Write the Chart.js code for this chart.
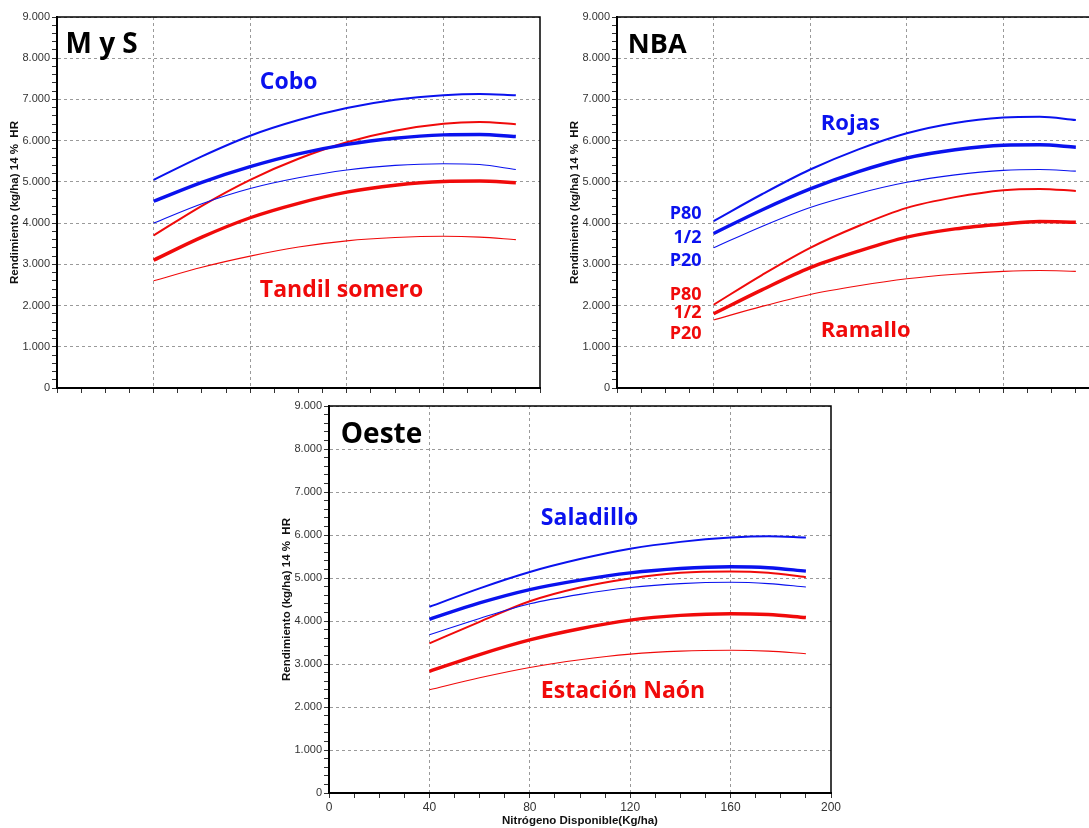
<!DOCTYPE html>
<html lang="es">
<head>
<meta charset="utf-8">
<title>Rendimiento vs Nitrógeno disponible</title>
<script src="https://cdn.jsdelivr.net/npm/chart.js@4.4.1/dist/chart.umd.min.js"></script>
<style>
  html, body { margin: 0; padding: 0; background: #fff; }
  body { position: relative; width: 1089px; height: 828px; overflow: hidden; }
  canvas { position: absolute; }
  #mys { left: 0; top: 0; }
  #nba { left: 560px; top: 0; }
  #oeste { left: 272px; top: 390px; }
</style>
</head>
<body>
<canvas id="mys" width="542" height="398"></canvas>
<canvas id="nba" width="542" height="398"></canvas>
<canvas id="oeste" width="572" height="438"></canvas>
<script>
// Nitrogeno disponible (kg/ha) where the curves were read
let nitrogeno = [40, 60, 80, 100, 120, 140, 160, 175, 190];

// M y S
let coboP80 = [5050, 5620, 6120, 6500, 6790, 6990, 7100, 7130, 7100];
let coboMedia = [4530, 4990, 5370, 5680, 5910, 6060, 6140, 6150, 6100];
let coboP20 = [4000, 4470, 4840, 5100, 5290, 5400, 5440, 5420, 5300];
let tandilP80 = [3700, 4420, 5050, 5560, 5960, 6240, 6410, 6450, 6400];
let tandilMedia = [3100, 3660, 4130, 4480, 4750, 4920, 5010, 5020, 4980];
let tandilP20 = [2600, 2930, 3200, 3420, 3570, 3650, 3680, 3660, 3600];

// NBA
let rojasP80 = [4050, 4700, 5300, 5790, 6180, 6430, 6560, 6580, 6500];
let rojasMedia = [3750, 4320, 4830, 5250, 5580, 5780, 5890, 5900, 5840];
let rojasP20 = [3400, 3920, 4380, 4720, 4990, 5170, 5280, 5300, 5260];
let ramalloP80 = [2020, 2740, 3400, 3930, 4370, 4630, 4800, 4830, 4780];
let ramalloMedia = [1800, 2380, 2920, 3320, 3660, 3860, 3980, 4040, 4020];
let ramalloP20 = [1650, 1980, 2270, 2480, 2650, 2760, 2830, 2850, 2830];

// Oeste
let saladilloP80 = [4330, 4760, 5140, 5440, 5680, 5840, 5940, 5970, 5940];
let saladilloMedia = [4040, 4420, 4730, 4950, 5120, 5220, 5260, 5240, 5160];
let saladilloP20 = [3680, 4060, 4400, 4620, 4780, 4870, 4900, 4870, 4790];
let naonP80 = [3480, 3980, 4460, 4780, 4990, 5120, 5150, 5120, 5020];
let naonMedia = [2830, 3220, 3560, 3820, 4020, 4130, 4170, 4150, 4080];
let naonP20 = [2400, 2680, 2920, 3100, 3230, 3300, 3320, 3300, 3240];

// axis ticks
let xMajor = 40;
let xMinor = 10;
let yMajor = 1000;
let yMinor = 200;

// text written on each panel: [text, x, y, color, size, align]
let notasMys = [
  ['M y S', 3.5, 8130, 'black', 28, 'left'],
  ['Cobo', 84, 7250, 'blue', 23, 'left'],
  ['Tandil somero', 84, 2210, 'red', 23, 'left']
];
let notasNba = [
  ['NBA', 4.5, 8130, 'black', 27, 'left'],
  ['Rojas', 84.4, 6260, 'blue', 22, 'left'],
  ['Ramallo', 84.4, 1240, 'red', 22, 'left'],
  ['P80', 35, 4090, 'blue', 18, 'right'],
  ['1/2', 35, 3510, 'blue', 18, 'right'],
  ['P20', 35, 2950, 'blue', 18, 'right'],
  ['P80', 35, 2140, 'red', 18, 'right'],
  ['1/2', 35, 1700, 'red', 18, 'right'],
  ['P20', 35, 1180, 'red', 18, 'right']
];
let notasOeste = [
  ['Oeste', 4.7, 8140, 'black', 28, 'left'],
  ['Saladillo', 84.4, 6230, 'blue', 23, 'left'],
  ['Estación Naón', 84.4, 2200, 'red', 23, 'left']
];

let colores = { blue: '#0a12ee', red: '#f00a0a', black: '#000' };
let anchos = { p80: 2, media: 3.4, p20: 1.1 };

Chart.defaults.font.family = "'Liberation Sans', Arial, sans-serif";

function serie(valores, color, tipo) {
  return {
    data: valores.map((v, i) => ({ x: nitrogeno[i], y: v })),
    borderColor: colores[color],
    borderWidth: anchos[tipo],
    pointRadius: 0,
    cubicInterpolationMode: 'monotone',
    fill: false
  };
}

function miles(v) {
  if (v === 0) return '0';
  return (v / 1000) + '.000';
}

// black frame on top and right of the plot
let marco = {
  id: 'marco',
  afterDraw(chart) {
    let a = chart.chartArea;
    let ctx = chart.ctx;
    ctx.save();
    ctx.strokeStyle = '#000';
    ctx.lineWidth = 1.5;
    ctx.beginPath();
    ctx.moveTo(a.left, a.top);
    ctx.lineTo(a.right, a.top);
    ctx.lineTo(a.right, a.bottom);
    ctx.stroke();
    ctx.restore();
  }
};

// labels on the panel, placed with the scales
let notas = {
  id: 'notas',
  afterDatasetsDraw(chart, args, opts) {
    let ctx = chart.ctx;
    let xs = chart.scales.x;
    let ys = chart.scales.y;
    ctx.save();
    for (let n of opts.lista) {
      ctx.font = 'bold ' + n[4] + "px 'Open Sans', 'Noto Sans', sans-serif";
      ctx.fillStyle = colores[n[3]];
      ctx.textAlign = n[5];
      ctx.textBaseline = 'alphabetic';
      ctx.fillText(n[0], xs.getPixelForValue(n[1]), ys.getPixelForValue(n[2]));
    }
    ctx.restore();
  }
};

function opciones(lista, padding, xHeight, conEtiquetas) {
  return {
    responsive: false,
    animation: false,
    devicePixelRatio: 1,
    layout: { padding: padding },
    plugins: {
      legend: { display: false },
      tooltip: { enabled: false },
      notas: { lista: lista }
    },
    scales: {
      x: {
        type: 'linear',
        min: 0,
        max: 200,
        afterFit: s => { s.height = xHeight; },
        ticks: {
          display: conEtiquetas,
          stepSize: xMinor,
          autoSkip: false,
          maxRotation: 0,
          padding: 2,
          color: '#333',
          font: { size: 12 },
          callback: v => (v % xMajor === 0 ? v : '')
        },
        grid: {
          color: c => (c.tick && c.tick.value % xMajor === 0 && c.tick.value > 0 && c.tick.value < 200 ? '#9a9a9a' : 'transparent'),
          tickColor: '#333',
          tickLength: 5
        },
        border: { color: '#000', width: 2, dash: [3, 3] },
        title: {
          display: conEtiquetas,
          text: 'Nitrógeno Disponible(Kg/ha)',
          color: '#111',
          font: { size: 11.5, weight: 'bold' },
          padding: { top: 0, bottom: 0 }
        }
      },
      y: {
        min: 0,
        max: 9000,
        afterFit: s => { s.width = 57; },
        ticks: {
          stepSize: yMinor,
          autoSkip: false,
          padding: 2,
          color: '#333',
          font: { size: 11 },
          callback: v => (v % yMajor === 0 ? miles(v) : '')
        },
        grid: {
          color: c => (c.tick && c.tick.value % yMajor === 0 && c.tick.value > 0 ? '#9a9a9a' : 'transparent'),
          tickColor: '#333',
          tickLength: 5
        },
        border: { color: '#000', width: 2, dash: [3, 3] },
        title: {
          display: true,
          text: 'Rendimiento (kg/ha) 14 %  HR',
          color: '#111',
          font: { size: 11.5, weight: 'bold' },
          padding: { top: 8, bottom: 0 }
        }
      }
    }
  };
}

new Chart(document.getElementById('mys'), {
  type: 'line',
  data: {
    datasets: [
      serie(coboP80, 'blue', 'p80'),
      serie(coboMedia, 'blue', 'media'),
      serie(coboP20, 'blue', 'p20'),
      serie(tandilP80, 'red', 'p80'),
      serie(tandilMedia, 'red', 'media'),
      serie(tandilP20, 'red', 'p20')
    ]
  },
  options: opciones(notasMys, { top: 17, right: 2, left: 0, bottom: 0 }, 10, false),
  plugins: [marco, notas]
});

new Chart(document.getElementById('nba'), {
  type: 'line',
  data: {
    datasets: [
      serie(rojasP80, 'blue', 'p80'),
      serie(rojasMedia, 'blue', 'media'),
      serie(rojasP20, 'blue', 'p20'),
      serie(ramalloP80, 'red', 'p80'),
      serie(ramalloMedia, 'red', 'media'),
      serie(ramalloP20, 'red', 'p20')
    ]
  },
  options: opciones(notasNba, { top: 17, right: 2, left: 0, bottom: 0 }, 10, false),
  plugins: [marco, notas]
});

new Chart(document.getElementById('oeste'), {
  type: 'line',
  data: {
    datasets: [
      serie(saladilloP80, 'blue', 'p80'),
      serie(saladilloMedia, 'blue', 'media'),
      serie(saladilloP20, 'blue', 'p20'),
      serie(naonP80, 'red', 'p80'),
      serie(naonMedia, 'red', 'media'),
      serie(naonP20, 'red', 'p20')
    ]
  },
  options: opciones(notasOeste, { top: 16, right: 13, left: 0, bottom: 0 }, 35, true),
  plugins: [marco, notas]
});
</script>
</body>
</html>
